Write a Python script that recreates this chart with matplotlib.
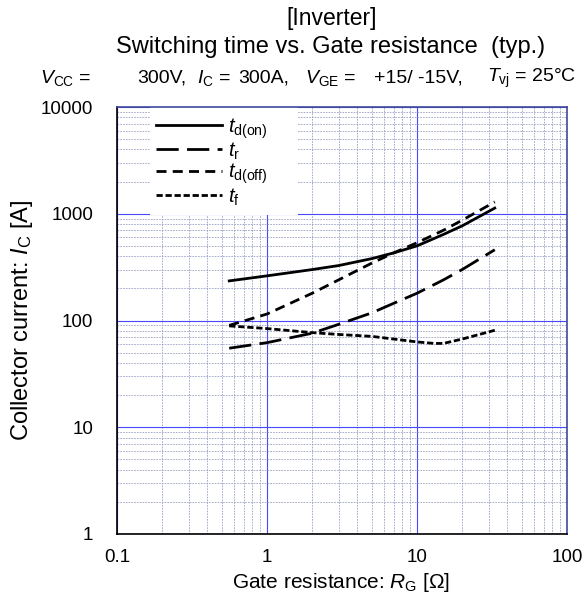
import numpy as np
import matplotlib
matplotlib.use("Agg")
import matplotlib.pyplot as plt
from matplotlib.patches import Rectangle

# Data (gate resistance in ohm, values as plotted)
rg = [0.56, 1, 2, 3, 5, 7, 10, 15, 20, 33]
td_on = [235, 262, 300, 327, 380, 430, 500, 640, 770, 1130]
t_r = [55, 62, 76, 92, 118, 145, 180, 240, 300, 460]
td_off = [90, 115, 180, 240, 345, 430, 535, 700, 870, 1290]
rg_f = [0.56, 1, 2, 3, 5, 7, 10, 13, 15, 20, 33]
t_f = [89, 84, 77, 74, 71, 67, 63, 61, 61, 67, 81]

x_ticks = [0.1, 1, 10, 100]
x_tick_labels = ["0.1", "1", "10", "100"]
y_ticks = [1, 10, 100, 1000, 10000]
y_tick_labels = ["1", "10", "100", "1000", "10000"]

plt.rcParams["font.family"] = ["Liberation Sans", "DejaVu Sans"]
plt.rcParams["mathtext.fontset"] = "custom"
plt.rcParams["mathtext.rm"] = "Liberation Sans"
plt.rcParams["mathtext.it"] = "Liberation Sans:italic"
plt.rcParams["lines.scale_dashes"] = False

W, H = 587, 603
fig = plt.figure(figsize=(W / 100, H / 100), dpi=100)
ax = fig.add_axes([117 / W, 1 - 534 / H, 450 / W, 427 / H])

ax.set_xscale("log")
ax.set_yscale("log")
ax.set_xlim(0.1, 100)
ax.set_ylim(1, 10000)

# grid: blue majors, dotted grey-blue minors
ax.grid(True, which="minor", color="#9aa0c4", lw=0.6, dashes=(1.2, 0.8))
ax.grid(True, which="major", color="#4848ff", lw=0.8)
ax.set_axisbelow(True)

# white box behind the legend
ax.add_patch(Rectangle((33 / 450, 1 - 108 / 427), 148 / 450, 108 / 427,
                       transform=ax.transAxes, facecolor="white", edgecolor="none", zorder=1.5))

lw = 2.0
ax.plot(rg, td_on, color="black", lw=lw, label=r"$t_{\rm d(on)}$")
ax.plot(rg, t_r, color="black", lw=lw, dashes=(16, 6), label=r"$t_{\rm r}$")
ax.plot(rg, td_off, color="black", lw=lw, dashes=(7.2, 4.5), label=r"$t_{\rm d(off)}$")
ax.plot(rg_f, t_f, color="black", lw=lw, dashes=(4.5, 2), label=r"$t_{\rm f}$")

ax.set_xticks(x_ticks)
ax.set_xticklabels(x_tick_labels)
ax.set_yticks(y_ticks)
ax.set_yticklabels(y_tick_labels)
ax.tick_params(which="both", length=0, labelsize=13.5)
ax.tick_params(axis="x", pad=11)
ax.tick_params(axis="y", pad=17)

for s in ["left", "bottom"]:
    ax.spines[s].set_color("black")
for s in ["right", "top"]:
    ax.spines[s].set_color("#404a9a")
for s in ax.spines.values():
    s.set_linewidth(1.2)

leg = ax.legend(loc="upper left", bbox_to_anchor=(39 / 450, 1 - 9 / 427), borderaxespad=0,
                fontsize=14.5, handlelength=3.3, labelspacing=0.0, handletextpad=0.3,
                frameon=False, borderpad=0)

fig.text(341 / W, 1 - 583 / H, r"Gate resistance: $\mathit{R}_{\rm G}$ [$\Omega$]",
         ha="center", va="center", fontsize=15)
fig.text(22 / W, 1 - 320 / H, r"Collector current: $\mathit{I}_{\rm C}$ [A]",
         ha="center", va="center", rotation=90, fontsize=17)

fig.text(332 / W, 1 - 18 / H, "[Inverter]", ha="center", va="center", fontsize=16.5)
fig.text(331 / W, 1 - 47 / H, "Switching time vs. Gate resistance  (typ.)",
         ha="center", va="center", fontsize=17)

cond = [(40, r"$\mathit{V}_{\rm CC}$ ="), (137, "300V,"), (197, r"$\mathit{I}_{\rm C}$ ="),
        (238, "300A,"), (305, r"$\mathit{V}_{\rm GE}$ ="), (374, "+15/ -15V,"),
        (487, r"$\mathit{T}_{\rm vj}$ = 25°C")]
for px, s in cond:
    fig.text(px / W, 1 - 78 / H, s, ha="left", va="center", fontsize=14)

fig.savefig("out.png", dpi=100)
